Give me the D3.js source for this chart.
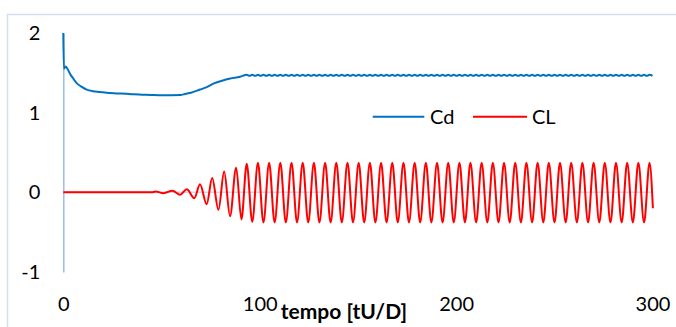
<!DOCTYPE html>
<html><head><meta charset="utf-8">
<script src="https://cdn.jsdelivr.net/npm/d3@7"></script>
<style>html,body{margin:0;padding:0;background:#fff;} svg{display:block}</style>
</head><body>
<svg id="c" width="676" height="327"></svg>
<script>
// ---- data ----
const xTicks = [0, 100, 200, 300];
const yTicks = [-1, 0, 1, 2];
const seriesNames = ["Cd", "CL"];
const xTitle = "tempo [tU/D]";

// Cd: [time, value]
const cdPoints = [
 [0,2.0],[0.3,1.55],[1.2,1.58],[2.0,1.555],[3.4,1.49],[5,1.43],[6.8,1.37],[9,1.33],[11.9,1.29],
 [15,1.27],[18.7,1.26],[22,1.25],[27.2,1.242],[32,1.236],[35.6,1.23],[40,1.226],[45,1.222],[49,1.22],
 [55,1.22],[59.6,1.222],[62,1.235],[65,1.25],[69.6,1.29],[73,1.32],[77,1.37],[80,1.395],[85,1.43],[90,1.45],
 [93.4,1.476],[94.8,1.462],[96.2,1.476],[97.7,1.462],[99.1,1.476],[100.5,1.462],[101.9,1.476],[103.4,1.462],
 [104.8,1.476],[106.2,1.462],[107.6,1.476],[109.1,1.462],[110.5,1.476],[111.9,1.462],[113.3,1.476],[114.8,1.462],
 [116.2,1.476],[117.6,1.462],[119.0,1.476],[120.5,1.462],[121.9,1.476],[123.3,1.462],[124.7,1.476],[126.2,1.462],
 [127.6,1.476],[129.0,1.462],[130.4,1.476],[131.9,1.462],[133.3,1.476],[134.7,1.462],[136.1,1.476],[137.6,1.462],
 [139.0,1.476],[140.4,1.462],[141.8,1.476],[143.3,1.462],[144.7,1.476],[146.1,1.462],[147.5,1.476],[149.0,1.462],
 [150.4,1.476],[151.8,1.462],[153.2,1.476],[154.7,1.462],[156.1,1.476],[157.5,1.462],[158.9,1.476],[160.4,1.462],
 [161.8,1.476],[163.2,1.462],[164.6,1.476],[166.1,1.462],[167.5,1.476],[168.9,1.462],[170.3,1.476],[171.8,1.462],
 [173.2,1.476],[174.6,1.462],[176.0,1.476],[177.5,1.462],[178.9,1.476],[180.3,1.462],[181.7,1.476],[183.2,1.462],
 [184.6,1.476],[186.0,1.462],[187.4,1.476],[188.9,1.462],[190.3,1.476],[191.7,1.462],[193.1,1.476],[194.6,1.462],
 [196.0,1.476],[197.4,1.462],[198.8,1.476],[200.3,1.462],[201.7,1.476],[203.1,1.462],[204.5,1.476],[206.0,1.462],
 [207.3,1.476],[208.8,1.462],[210.2,1.476],[211.6,1.462],[213.0,1.476],[214.5,1.462],[215.9,1.476],[217.3,1.462],
 [218.7,1.476],[220.2,1.462],[221.6,1.476],[223.0,1.462],[224.4,1.476],[225.9,1.462],[227.3,1.476],[228.7,1.462],
 [230.1,1.476],[231.6,1.462],[233.0,1.476],[234.4,1.462],[235.8,1.476],[237.3,1.462],[238.7,1.476],[240.1,1.462],
 [241.5,1.476],[243.0,1.462],[244.4,1.476],[245.8,1.462],[247.2,1.476],[248.7,1.462],[250.1,1.476],[251.5,1.462],
 [252.9,1.476],[254.4,1.462],[255.8,1.476],[257.2,1.462],[258.6,1.476],[260.1,1.462],[261.5,1.476],[262.9,1.462],
 [264.3,1.476],[265.8,1.462],[267.2,1.476],[268.6,1.462],[270.0,1.476],[271.5,1.462],[272.9,1.476],[274.3,1.462],
 [275.7,1.476],[277.2,1.462],[278.6,1.476],[280.0,1.462],[281.4,1.476],[282.9,1.462],[284.3,1.476],[285.7,1.462],
 [287.1,1.476],[288.6,1.462],[290.0,1.476],[291.4,1.462],[292.8,1.476],[294.3,1.462],[295.7,1.476],[297.1,1.462],
 [298.5,1.476],[300,1.462]
];

// CL: [time, value] (extremes of the oscillation)
const clPoints = [
 [0,0],[45,0],[47,0.01],[51,-0.01],[55.6,0.02],[59.5,-0.03],[62.9,0.04],[66.7,-0.075],[69.6,0.10],[73,-0.15],
 [75.8,0.18],[79,-0.22],[81.9,0.26],[84.9,-0.30],[88,0.31],[90.7,-0.34],
 [93.4,0.36],[96.2,-0.37],[99.1,0.37],[101.9,-0.38],[104.8,0.37],[107.6,-0.38],[110.5,0.37],[113.3,-0.38],
 [116.2,0.37],[119.0,-0.38],[121.9,0.37],[124.7,-0.38],[127.6,0.37],[130.4,-0.38],[133.3,0.37],[136.1,-0.38],
 [139.0,0.37],[141.8,-0.38],[144.7,0.37],[147.5,-0.38],[150.4,0.37],[153.2,-0.38],[156.1,0.37],[158.9,-0.38],
 [161.8,0.37],[164.6,-0.38],[167.5,0.37],[170.3,-0.38],[173.2,0.37],[176.0,-0.38],[178.9,0.37],[181.7,-0.38],
 [184.6,0.37],[187.4,-0.38],[190.3,0.37],[193.1,-0.38],[196.0,0.37],[198.8,-0.38],[201.7,0.37],[204.5,-0.38],
 [207.3,0.37],[210.2,-0.38],[213.0,0.37],[215.9,-0.38],[218.7,0.37],[221.6,-0.38],[224.4,0.37],[227.3,-0.38],
 [230.1,0.37],[233.0,-0.38],[235.8,0.37],[238.7,-0.38],[241.5,0.37],[244.4,-0.38],[247.2,0.37],[250.1,-0.38],
 [252.9,0.37],[255.8,-0.38],[258.6,0.37],[261.5,-0.38],[264.3,0.37],[267.2,-0.38],[270.0,0.37],[272.9,-0.38],
 [275.7,0.37],[278.6,-0.38],[281.4,0.37],[284.3,-0.38],[287.1,0.37],[290.0,-0.38],[292.8,0.37],[295.7,-0.38],
 [298.5,0.37],[300.2,-0.2]
];

// ---- drawing ----
const FONT = "Lato, 'Liberation Sans', sans-serif";
const svg = d3.select("#c");
const x = d3.scaleLinear().domain([0, 300]).range([63.3, 652.5]);
const y = d3.scaleLinear().domain([-1, 2]).range([272, 33]);
const colors = {Cd: "#0070C0", CL: "#FF0000"};
const fmt = d => String(d);

// chart frame
svg.append("rect").attr("x", 7.5).attr("y", 14.5).attr("width", 700).attr("height", 400)
  .attr("fill", "none").attr("stroke", "#d3dff1").attr("stroke-width", 1.5);

// zero line (horizontal axis)
svg.append("line").attr("x1", x(0)).attr("x2", x(300)).attr("y1", y(0)).attr("y2", y(0))
  .attr("stroke", "#cbd8ee").attr("stroke-width", 1.5);

// y axis
const gy = svg.append("g").attr("transform", `translate(${x(0)},0)`)
  .call(d3.axisLeft(y).tickValues(yTicks).tickSize(0).tickSizeOuter(0).tickPadding(23).tickFormat(fmt));
gy.select(".domain").attr("stroke", "#9dbbe6").attr("stroke-width", 1.5);
gy.selectAll("text").attr("font-family", FONT).attr("font-size", 20).attr("fill", "#000");

// x axis labels (at bottom)
const gx = svg.append("g").attr("transform", `translate(0,272)`)
  .call(d3.axisBottom(x).tickValues(xTicks).tickSize(0).tickPadding(25).tickFormat(fmt));
gx.select(".domain").remove();
gx.selectAll("text").attr("font-family", FONT).attr("font-size", 20).attr("fill", "#000");

// x title
svg.append("text").attr("x", 344).attr("y", 318.5).attr("text-anchor", "middle")
  .attr("font-family", FONT).attr("font-size", 21).attr("font-weight", "bold").attr("fill", "#000")
  .text(xTitle);

// series
const line = d3.line().x(d => x(d[0])).y(d => y(d[1])).curve(d3.curveMonotoneX);
svg.append("path").datum(clPoints).attr("d", line).attr("fill", "none")
  .attr("stroke", colors.CL).attr("stroke-width", 2).attr("stroke-linejoin", "round");
svg.append("path").datum(cdPoints).attr("d", line).attr("fill", "none")
  .attr("stroke", colors.Cd).attr("stroke-width", 2).attr("stroke-linejoin", "round");

// legend
const legendPos = [{line: [372.7, 424.3], text: 430}, {line: [473, 527], text: 532}];
seriesNames.forEach((name, i) => {
  const p = legendPos[i];
  svg.append("line").attr("x1", p.line[0]).attr("x2", p.line[1]).attr("y1", 116.7).attr("y2", 116.7)
    .attr("stroke", colors[name]).attr("stroke-width", 2);
  svg.append("text").attr("x", p.text).attr("y", 116.7).attr("dy", "0.35em")
    .attr("font-family", FONT).attr("font-size", 20).attr("fill", "#000").text(name);
});
</script>
</body></html>
